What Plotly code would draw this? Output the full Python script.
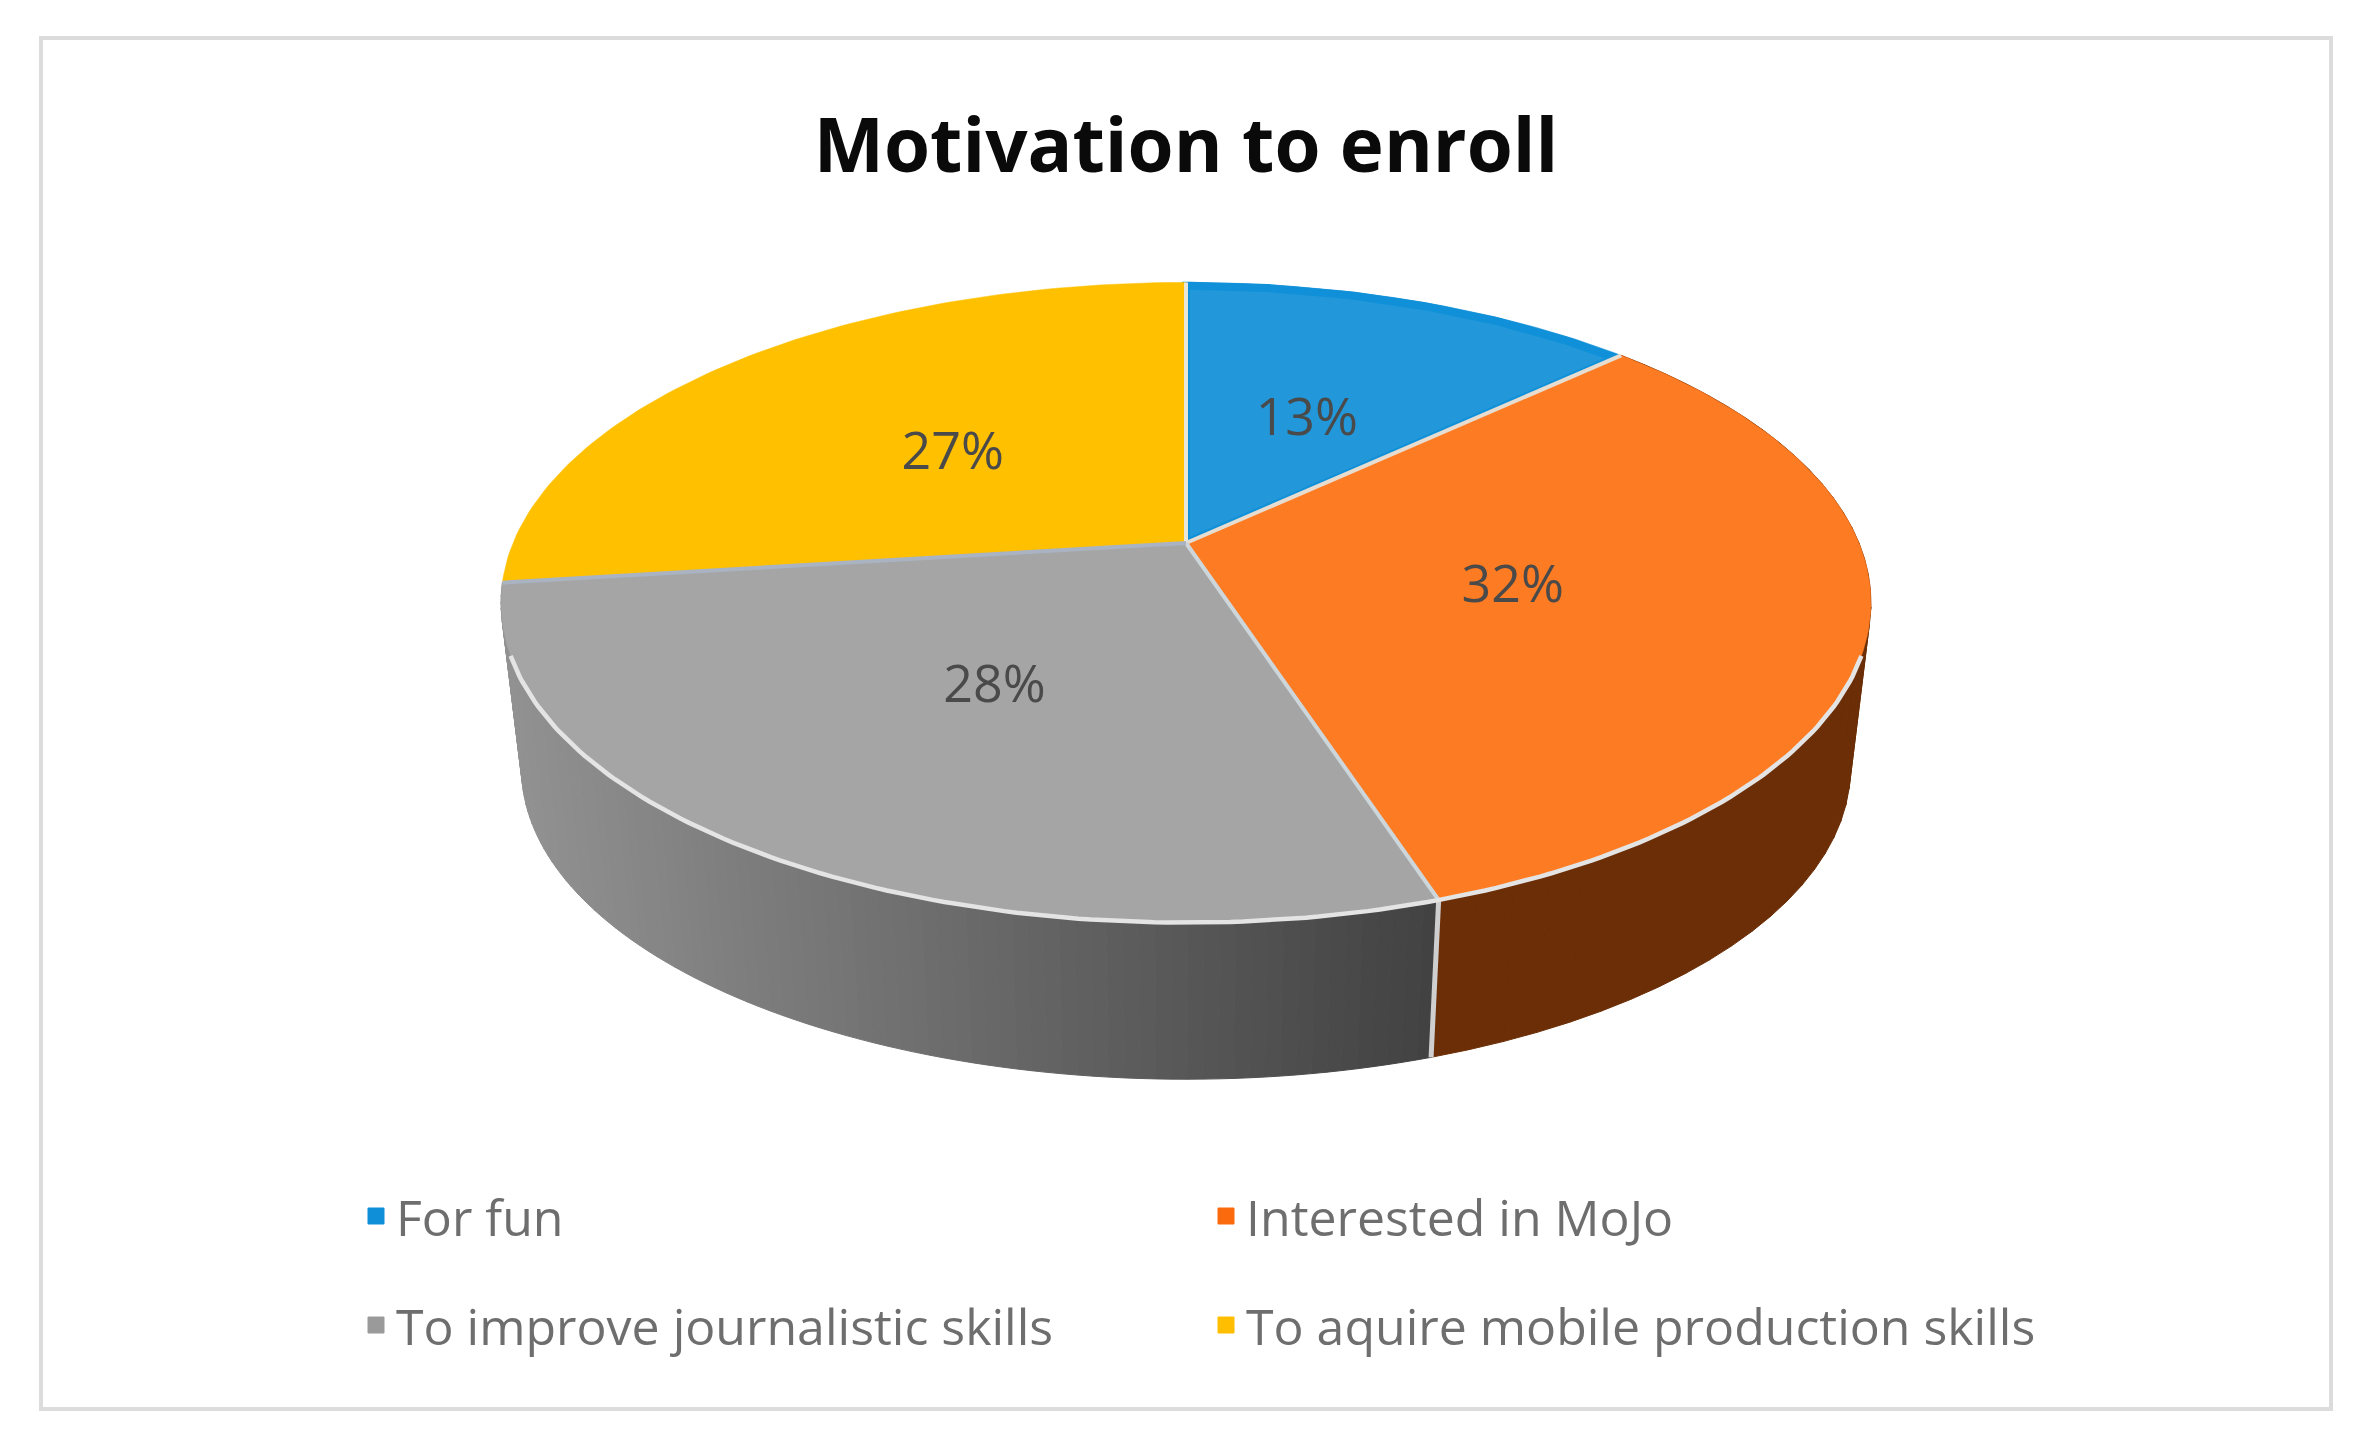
import numpy as np
import plotly.graph_objects as go

# ---- data ----
categories = ["For fun", "Interested in MoJo", "To improve journalistic skills", "To aquire mobile production skills"]
percent = [13, 32, 28, 27]
title_text = "Motivation to enroll"

# ---- style ----
top_colors = ["#2297d9", "#fd7b22", "#a5a5a5", "#ffc000"]
legend_colors = ["#0f8fd8", "#fb6a0c", "#9a9a9a", "#ffbe00"]
radial_colors = ["#e8e6d8", "#e6dcd0", "#cdd6da", "#a9b3c2"]
FONT = "Open Sans"

# ---- tilted-disk projection (pixel space of the picture) ----
CX, CY_TOP, CY_BOT = 1186, 543, 711
RX, RY, K = 673, 309, 0.186
BOT_SCALE = 0.97


def project(t_deg, r=1.0, cy=CY_TOP, s=1.0):
    t = np.radians(np.asarray(t_deg, dtype=float))
    x, y = r * np.sin(t), r * np.cos(t)
    d = 1 + K * y
    return CX + s * RX * x / d, cy - s * RY * y / d


bounds = np.concatenate([[0], np.cumsum(percent)]) * 3.6
fig = go.Figure()


def add_line(x, y, colour, width):
    fig.add_trace(go.Scatter(x=x, y=y, mode="lines", line=dict(color=colour, width=width),
                             showlegend=False, hoverinfo="skip"))


def gray_for(x):
    v = 146 + (x - 510) * (66 - 146) / (1430 - 510)
    v = int(round(float(np.clip(v, 60, 150))))
    return f"rgb({v},{v},{v})"


def wall(t0, t1, colour=None, n=60):
    ts = np.linspace(t0, t1, n + 1)
    for a, b in zip(ts[:-1], ts[1:]):
        xa, ya = project(a)
        xb, yb = project(b)
        xc, yc = project(b, cy=CY_BOT, s=BOT_SCALE)
        xd, yd = project(a, cy=CY_BOT, s=BOT_SCALE)
        c = colour or gray_for((xa + xb + xc + xd) / 4)
        fig.add_trace(go.Scatter(x=[xa, xb, xc, xd, xa], y=[ya, yb, yc, yd, ya], mode="lines",
                                 fill="toself", fillcolor=c, line=dict(color=c, width=1),
                                 showlegend=False, hoverinfo="skip"))


# side walls (only the two front slices are visible)
wall(bounds[1], bounds[2], colour="#6b2e06", n=40)
wall(bounds[2], bounds[3], n=90)

# divider between the two walls
xa, ya = project(bounds[2])
xb, yb = project(bounds[2], cy=CY_BOT, s=BOT_SCALE)
add_line([xa, xb], [ya, yb], "#cfcfcf", 5)


def face(i):
    ts = np.linspace(bounds[i], bounds[i + 1], 90)
    x, y = project(ts)
    fig.add_trace(go.Scatter(x=np.r_[CX, x, CX], y=np.r_[CY_TOP, y, CY_TOP], mode="lines", fill="toself",
                             fillcolor=top_colors[i], line=dict(color=top_colors[i], width=0.5),
                             showlegend=False, hoverinfo="skip"))


# top faces: the blue one first, with its darker inner edge
face(0)
ts0 = np.linspace(bounds[0], bounds[1], 90)
hx, hy = project(ts0, r=0.985)
add_line(np.r_[CX, hx, CX], np.r_[CY_TOP, hy, CY_TOP], "#0f90d8", 8)
for i in (3, 1, 2):
    face(i)

# pale radial dividers
for i, c in enumerate(radial_colors):
    ex, ey = project(bounds[i])
    add_line([CX, ex], [CY_TOP, ey], c, 4)

# pale rim along the front of the disk
rx, ry = project(np.linspace(110, 250, 160))
add_line(rx, ry, "#e4e4e4", 4.5)

# percentage labels
mids = (bounds[:-1] + bounds[1:]) / 2
lx, ly = project(mids, r=0.49, cy=CY_TOP + 7)
fig.add_trace(go.Scatter(x=lx, y=ly, mode="text", text=[f"{p}%" for p in percent],
                         textfont=dict(family=FONT, size=52, color="#4a4a4a"),
                         showlegend=False, hoverinfo="skip"))

# legend entries
for i, (cat, col) in enumerate(zip(categories, legend_colors)):
    fig.add_trace(go.Scatter(x=[None], y=[None], mode="markers", name=cat,
                             legend="legend" if i < 2 else "legend2",
                             marker=dict(symbol="square", size=16, color=col, line=dict(color=col, width=1))))

legend_common = dict(orientation="h", xanchor="left", yanchor="middle", x=356 / 2366,
                     entrywidth=805, entrywidthmode="pixels", bgcolor="rgba(0,0,0,0)",
                     font=dict(family=FONT, size=50, color="#6e6e6e"), itemclick=False, itemdoubleclick=False)

fig.update_layout(
    width=2366, height=1445, margin=dict(l=0, r=0, t=0, b=0),
    paper_bgcolor="white", plot_bgcolor="white",
    xaxis=dict(visible=False, range=[0, 2366], fixedrange=True),
    yaxis=dict(visible=False, range=[1445, 0], fixedrange=True),
    title=dict(text=f"<b>{title_text}</b>", x=1186 / 2366, y=1 - 146 / 1445, xanchor="center", yanchor="middle",
               font=dict(family=FONT, size=74.5, color="#0a0a0a")),
    legend=dict(y=1 - 1216 / 1445, **legend_common),
    legend2=dict(y=1 - 1325 / 1445, **legend_common),
    shapes=[dict(type="rect", xref="paper", yref="paper", x0=41 / 2366, x1=2331 / 2366,
                 y0=1 - 1409 / 1445, y1=1 - 38 / 1445, line=dict(color="#dcdcdc", width=4), layer="below")],
)

fig.write_html("out.html", config=dict(displayModeBar=False),
               post_script="document.body.style.margin='0';")
